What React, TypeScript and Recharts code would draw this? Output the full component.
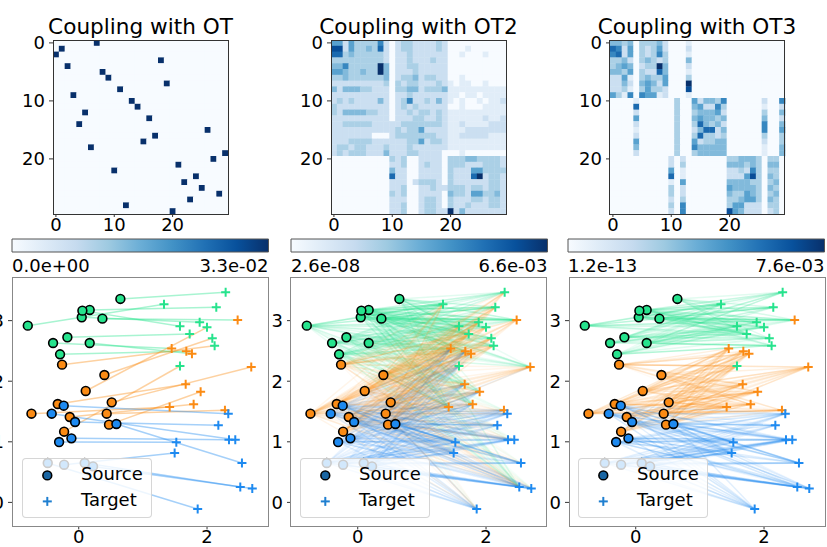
import React from 'react';
import { ScatterChart, Scatter, XAxis, YAxis, ReferenceLine, ReferenceArea } from 'recharts';

const FONT = 'DejaVu Sans, sans-serif';

const TITLES = ['Coupling with OT', 'Coupling with OT2', 'Coupling with OT3'];

// source samples, one per coupling row (0-9 green, 10-19 orange, 20-29 blue)
const SRC_X = [0.649, 0.171, -0.794, -0.4, 0.047, 0.369, 0.057, 0.171, -0.291, -0.177,
    -0.26, 0.514, 0.4, -0.327, -0.737, 0.436, -0.14, 0.472, 0.109, -0.228,
    -0.234, -0.421, -0.057, 0.587, -0.114, -0.306, -0.483, -0.228, 0.093, 0.223];
const SRC_Y = [3.358, 3.176, 2.917, 2.631, 3.055, 3.033, 3.165, 2.631, 2.444, 2.725,
    2.273, 1.651, 2.103, 1.624, 1.464, 1.464, 1.409, 1.283, 1.839, 1.167,
    1.596, 1.464, 1.327, 1.294, 1.057, 0.996, 0.65, 0.622, 0.65, 0.594];
const SRC_CLASS = [0, 0, 0, 0, 0, 0, 0, 0, 0, 0, 1, 1, 1, 1, 1, 1, 1, 1, 1, 1, 2, 2, 2, 2, 2, 2, 2, 2, 2, 2];

// target samples, one per coupling column
const TGT_X = [1.329, 2.144, 1.885, 1.729, 1.417, 2.082, 1.999, 2.29, 2.477, 1.578,
    2.176, 1.677, 2.518, 2.118, 2.689, 1.9, 1.667, 1.791, 1.449, 1.765,
    2.705, 2.44, 2.342, 1.495, 2.544, 1.521, 2.279, 2.331, 1.854, 1.578];
const TGT_Y = [3.27, 3.22, 2.972, 2.78, 1.574, 2.708, 2.89, 3.468, 3.011, 2.906,
    1.272, 2.494, 0.253, 2.587, 2.235, 1.827, 1.949, 1.618, 2.538, 2.455,
    0.231, 1.035, 1.035, 0.815, 0.65, 0.991, 1.519, 1.464, -0.11, 2.251];
const TGT_CLASS = [0, 0, 0, 0, 1, 0, 0, 0, 1, 0, 2, 1, 2, 0, 1, 1, 1, 1, 1, 1, 2, 2, 2, 2, 2, 2, 1, 2, 2, 0];

const CLASS_COLORS = ['#26e38d', '#fb8b14', '#1e8af0'];

// colorbar limits
const CB_MIN = [0, 2.6e-8, 1.2e-13];
const CB_MAX = [3.3e-2, 6.6e-3, 7.6e-3];

// OT: exact coupling, column picked by each row
const OT1_PERM = [7, 1, 0, 18, 2, 8, 9, 19, 11, 3, 13, 14, 5, 16, 4, 26, 17, 15, 6, 29, 27, 21, 10, 24, 22, 25, 28, 23, 12, 20];
const OT1_MASS = 0.0333;

// OT2: colour level 0-9 per cell
const OT2_LEVELS = [
    '5525333362 0233222232 0000000000',
    '8825334372 0233222232 0001000000',
    '7734333332 0223222222 0010001000',
    '3333333332 0223222322 0000000000',
    '4463333394 0223322222 0000000000',
    '5543343394 0222322222 0000000000',
    '3343333334 0233423322 0010000000',
    '2222222223 0323322232 1011001000',
    '4244433222 0334423334 1111111111',
    '2222222222 0223222222 1101101111',
    '2323222242 0236223242 1010010112',
    '3222222222 0232322222 0010001111',
    '3244443322 0223233232 1111111111',
    '2222222222 0222332232 1111112112',
    '2233333222 2233333332 1121111222',
    '2222222222 2323352222 1112222222',
    '2222222000 2333333322 1122222111',
    '2223333222 2223352332 1111111111',
    '2332332223 2223222222 1111111111',
    '2323332224 2223322220 0010000000',
    '0000000000 3230022220 3334433332',
    '0000000000 2230023220 3332223332',
    '0000000000 4220022220 3222553333',
    '0000000000 7220022220 3222792332',
    '0000000000 2220233320 3222222332',
    '0000000000 2230022322 3332332332',
    '0000000000 3230022220 4332553342',
    '0000000000 2220023320 3222332332',
    '0000000000 2230023320 3223222332',
    '0000000000 2230023322 9242222222',
];

// OT3: three class blocks, everything else ~0
const OT3_COLS = [
    [0, 1, 2, 3, 5, 6, 7, 8, 9, 13],
    [4, 11, 14, 15, 16, 17, 18, 19, 26, 29],
    [10, 12, 20, 21, 22, 23, 24, 25, 27, 28],
];
const OT3_LEVELS = [
    ['4434333421', '7625323522', '6725323631', '3342343234', '3454233942',
        '4435322741', '2251343353', '2242454259', '2231353328', '5316655121'],
    ['1352443626', '7345226312', '2334445234', '5345443442', '2337434264',
        '1324772465', '2337332333', '5352334423', '4364444414', '2334444414'],
    ['2233444333', '2344434344', '5122326333', '7122258343', '1544443334',
        '3254444343', '3243354334', '2333455343', '3635522233', '2685422223'],
];

const BLUES = ['#f7fbff', '#deebf7', '#c6dbef', '#9ecae1', '#6baed6', '#4292c6', '#2171b5', '#08519c', '#08306b'];

// layout (px)
const HM_LEFT = [53, 331, 609.5];
const HM_TOP = 40;
const HM_W = 175;
const HM_H = 174;
const CB_LEFT = [11.7, 290.7, 568.3];
const CB_TOP = 239;
const CB_W = 256.5;
const CB_H = 13;
const SC_LEFT = [12.3, 290.7, 569];
const SC_TOP = 277.3;
const SC_W = 256;
const SC_H = 249.4;
const X_DOMAIN = [-1.04, 2.95];
const Y_DOMAIN = [-0.396, 3.72];
const LINE_ALPHA = 0.4;

const TICK = { fontSize: 18, fill: '#000', fontFamily: FONT };

function hexRgb(h: string) {
    return [1, 3, 5].map(i => parseInt(h.slice(i, i + 2), 16));
}

function blues(t: number) {
    const u = Math.min(1, Math.max(0, t)) * (BLUES.length - 1);
    const i = Math.min(BLUES.length - 2, Math.floor(u));
    const f = u - i;
    const a = hexRgb(BLUES[i]);
    const b = hexRgb(BLUES[i + 1]);
    const c = a.map((v, k) => Math.round(v + (b[k] - v) * f));
    return `rgb(${c[0]},${c[1]},${c[2]})`;
}

function sci(v: number) {
    if (v === 0) return '0.0e+00';
    let e = Math.floor(Math.log10(v));
    let m = Math.round((v / Math.pow(10, e)) * 10) / 10;
    if (m >= 10) { m = 1; e += 1; }
    return m.toFixed(1) + 'e' + (e < 0 ? '-' : '+') + String(Math.abs(e)).padStart(2, '0');
}

function buildOT1() {
    return OT1_PERM.map(p => OT1_PERM.map((_, j) => (p === j ? OT1_MASS : 0)));
}

function buildOT2() {
    return OT2_LEVELS.map(s => s.replace(/ /g, '').split('').map(ch => Math.max(CB_MIN[1], (Number(ch) / 9) * CB_MAX[1])));
}

function buildOT3() {
    const m = OT1_PERM.map(() => OT1_PERM.map(() => CB_MIN[2]));
    OT3_LEVELS.forEach((block, b) => {
        block.forEach((row, r) => {
            row.split('').forEach((ch, q) => {
                m[b * 10 + r][OT3_COLS[b][q]] = Math.max(CB_MIN[2], (Number(ch) / 9) * CB_MAX[2]);
            });
        });
    });
    return m;
}

const MATRICES = [buildOT1(), buildOT2(), buildOT3()];

function Heatmap({ k }: { k: number }) {
    const vmin = CB_MIN[k];
    const vmax = CB_MAX[k];
    const cells: any[] = [];
    MATRICES[k].forEach((row, r) => row.forEach((v, c) => cells.push({ c, r, v })));
    const cw = HM_W / 30;
    const ch = HM_H / 30;
    return (
        <div style={{ position: 'absolute', left: HM_LEFT[k] - 50, top: 0 }}>
            <ScatterChart width={50 + HM_W + 10} height={HM_TOP + HM_H + 30} margin={{ top: HM_TOP, right: 10, bottom: 0, left: 0 }}>
                <XAxis type="number" dataKey="c" domain={[-0.5, 29.5]} ticks={[0, 10, 20]} interval={0} height={30}
                    tickSize={3} tickMargin={1} axisLine={false} stroke="#333" tick={TICK} />
                <YAxis type="number" dataKey="r" domain={[-0.5, 29.5]} ticks={[0, 10, 20]} interval={0} reversed width={50}
                    tickSize={4} tickMargin={4} axisLine={false} stroke="#333" tick={TICK} />
                <Scatter data={cells} isAnimationActive={false}
                    shape={(p: any) => (
                        <rect x={p.cx - cw / 2} y={p.cy - ch / 2} width={cw + 0.4} height={ch + 0.4}
                            fill={blues((p.payload.v - vmin) / (vmax - vmin))} />
                    )} />
            </ScatterChart>
        </div>
    );
}

function CbTick(props: any) {
    const { x, y, payload, index } = props;
    return (
        <text x={x} y={y} dy="0.71em" textAnchor={index === 0 ? 'start' : 'end'} fontSize={18} fill="#000" fontFamily={FONT}>
            {sci(payload.value)}
        </text>
    );
}

function Colorbar({ k }: { k: number }) {
    const ends = [{ x: CB_MIN[k], y: 0 }, { x: CB_MAX[k], y: 1 }];
    return (
        <div style={{ position: 'absolute', left: CB_LEFT[k] - 45, top: CB_TOP - 5 }}>
            <ScatterChart width={45 + CB_W + 45} height={5 + CB_H + 30} margin={{ top: 5, right: 45, bottom: 0, left: 45 }}>
                <defs>
                    <linearGradient id={`bluesGrad${k}`} x1="0" y1="0" x2="1" y2="0">
                        {BLUES.map((c, i) => (
                            <stop key={c} offset={`${(i / (BLUES.length - 1)) * 100}%`} stopColor={c} />
                        ))}
                    </linearGradient>
                </defs>
                <XAxis type="number" dataKey="x" domain={[CB_MIN[k], CB_MAX[k]]} ticks={[CB_MIN[k], CB_MAX[k]]} interval={0}
                    height={30} tickLine={false} axisLine={false} tickSize={0} tickMargin={7} tick={<CbTick />} allowDataOverflow />
                <YAxis type="number" dataKey="y" domain={[0, 1]} hide allowDataOverflow />
                <Scatter data={ends} isAnimationActive={false} shape={() => <g />} />
                <ReferenceArea x1={CB_MIN[k]} x2={CB_MAX[k]} y1={0} y2={1} fill={`url(#bluesGrad${k})`} fillOpacity={1}
                    stroke="#555" strokeWidth={1} ifOverflow="visible" />
            </ScatterChart>
        </div>
    );
}

function Samples({ k }: { k: number }) {
    const m = MATRICES[k];
    const vmax = Math.max(...m.map(r => Math.max(...r)));
    const segs: { i: number; j: number; a: number }[] = [];
    m.forEach((row, i) => row.forEach((v, j) => {
        if (v / vmax >= 0.05) segs.push({ i, j, a: v / vmax });
    }));
    const sources = SRC_X.map((x, i) => ({ x, y: SRC_Y[i], c: SRC_CLASS[i] }));
    const targets = TGT_X.map((x, i) => ({ x, y: TGT_Y[i], c: TGT_CLASS[i] }));
    return (
        <div style={{ position: 'absolute', left: SC_LEFT[k] - 40, top: SC_TOP - 8 }}>
            <ScatterChart width={40 + SC_W + 5} height={8 + SC_H + 25} margin={{ top: 8, right: 5, bottom: 0, left: 0 }}>
                <XAxis type="number" dataKey="x" domain={X_DOMAIN} ticks={[0, 2]} interval={0} height={25}
                    tickSize={3} tickMargin={1} axisLine={false} stroke="#333" tick={TICK} allowDataOverflow />
                <YAxis type="number" dataKey="y" domain={Y_DOMAIN} ticks={[0, 1, 2, 3]} interval={0} width={40}
                    tickSize={4} tickMargin={4} axisLine={false} stroke="#333" tick={TICK} allowDataOverflow />
                {segs.map(s => (
                    <ReferenceLine key={`${s.i}-${s.j}`} ifOverflow="visible"
                        segment={[{ x: SRC_X[s.i], y: SRC_Y[s.i] }, { x: TGT_X[s.j], y: TGT_Y[s.j] }]}
                        stroke={CLASS_COLORS[SRC_CLASS[s.i]]} strokeOpacity={LINE_ALPHA * s.a} strokeWidth={1.5} />
                ))}
                <Scatter data={sources} isAnimationActive={false}
                    shape={(p: any) => (
                        <circle cx={p.cx} cy={p.cy} r={4.4} fill={CLASS_COLORS[p.payload.c]} stroke="#000" strokeWidth={1.6} />
                    )} />
                <Scatter data={targets} isAnimationActive={false}
                    shape={(p: any) => (
                        <g stroke={CLASS_COLORS[p.payload.c]} strokeWidth={2}>
                            <line x1={p.cx - 4.5} y1={p.cy} x2={p.cx + 4.5} y2={p.cy} />
                            <line x1={p.cx} y1={p.cy - 4.5} x2={p.cx} y2={p.cy + 4.5} />
                        </g>
                    )} />
            </ScatterChart>
        </div>
    );
}

function LegendBox({ k }: { k: number }) {
    return (
        <div style={{
            position: 'absolute', left: SC_LEFT[k] + 9.4, top: 458.3, width: 130, height: 60, boxSizing: 'border-box',
            background: 'rgba(255,255,255,0.8)', border: '1px solid rgba(204,204,204,0.8)', borderRadius: 4,
        }}>
            <svg width={130} height={60} style={{ position: 'absolute', left: -1, top: -1 }}>
                <circle cx={25.3} cy={17.4} r={4.4} fill="#1a66a3" stroke="#000" strokeWidth={1.6} />
                <g stroke="#1f7fd0" strokeWidth={2}>
                    <line x1={20.8} y1={43.4} x2={29.8} y2={43.4} />
                    <line x1={25.3} y1={38.9} x2={25.3} y2={47.9} />
                </g>
                <text x={59} y={22.4} fontSize={18} fontFamily={FONT} fill="#000">Source</text>
                <text x={59} y={48.4} fontSize={18} fontFamily={FONT} fill="#000">Target</text>
            </svg>
        </div>
    );
}

export default function App() {
    return (
        <div style={{ position: 'absolute', left: 0, top: 0, width: 827, height: 547, overflow: 'hidden', background: '#fff', fontFamily: FONT }}>
            <svg width={827} height={40} style={{ position: 'absolute', left: 0, top: 0 }}>
                {TITLES.map((t, k) => (
                    <text key={t} x={HM_LEFT[k] + HM_W / 2} y={34.3} textAnchor="middle" fontSize={21.6} fontFamily={FONT} fill="#000">{t}</text>
                ))}
            </svg>
            {[0, 1, 2].map(k => <Heatmap key={`h${k}`} k={k} />)}
            {[0, 1, 2].map(k => <Colorbar key={`c${k}`} k={k} />)}
            {[0, 1, 2].map(k => <Samples key={`s${k}`} k={k} />)}
            {[0, 1, 2].map(k => (
                <div key={`hb${k}`} style={{ position: 'absolute', left: HM_LEFT[k] - 0.5, top: HM_TOP - 0.5, width: HM_W + 1, height: HM_H + 1, border: '1px solid #333', boxSizing: 'border-box' }} />
            ))}
            {[0, 1, 2].map(k => (
                <div key={`sb${k}`} style={{ position: 'absolute', left: SC_LEFT[k] - 0.5, top: SC_TOP - 0.5, width: SC_W + 1, height: SC_H + 1, border: '1px solid #888', boxSizing: 'border-box' }} />
            ))}
            {[0, 1, 2].map(k => <LegendBox key={`l${k}`} k={k} />)}
        </div>
    );
}
